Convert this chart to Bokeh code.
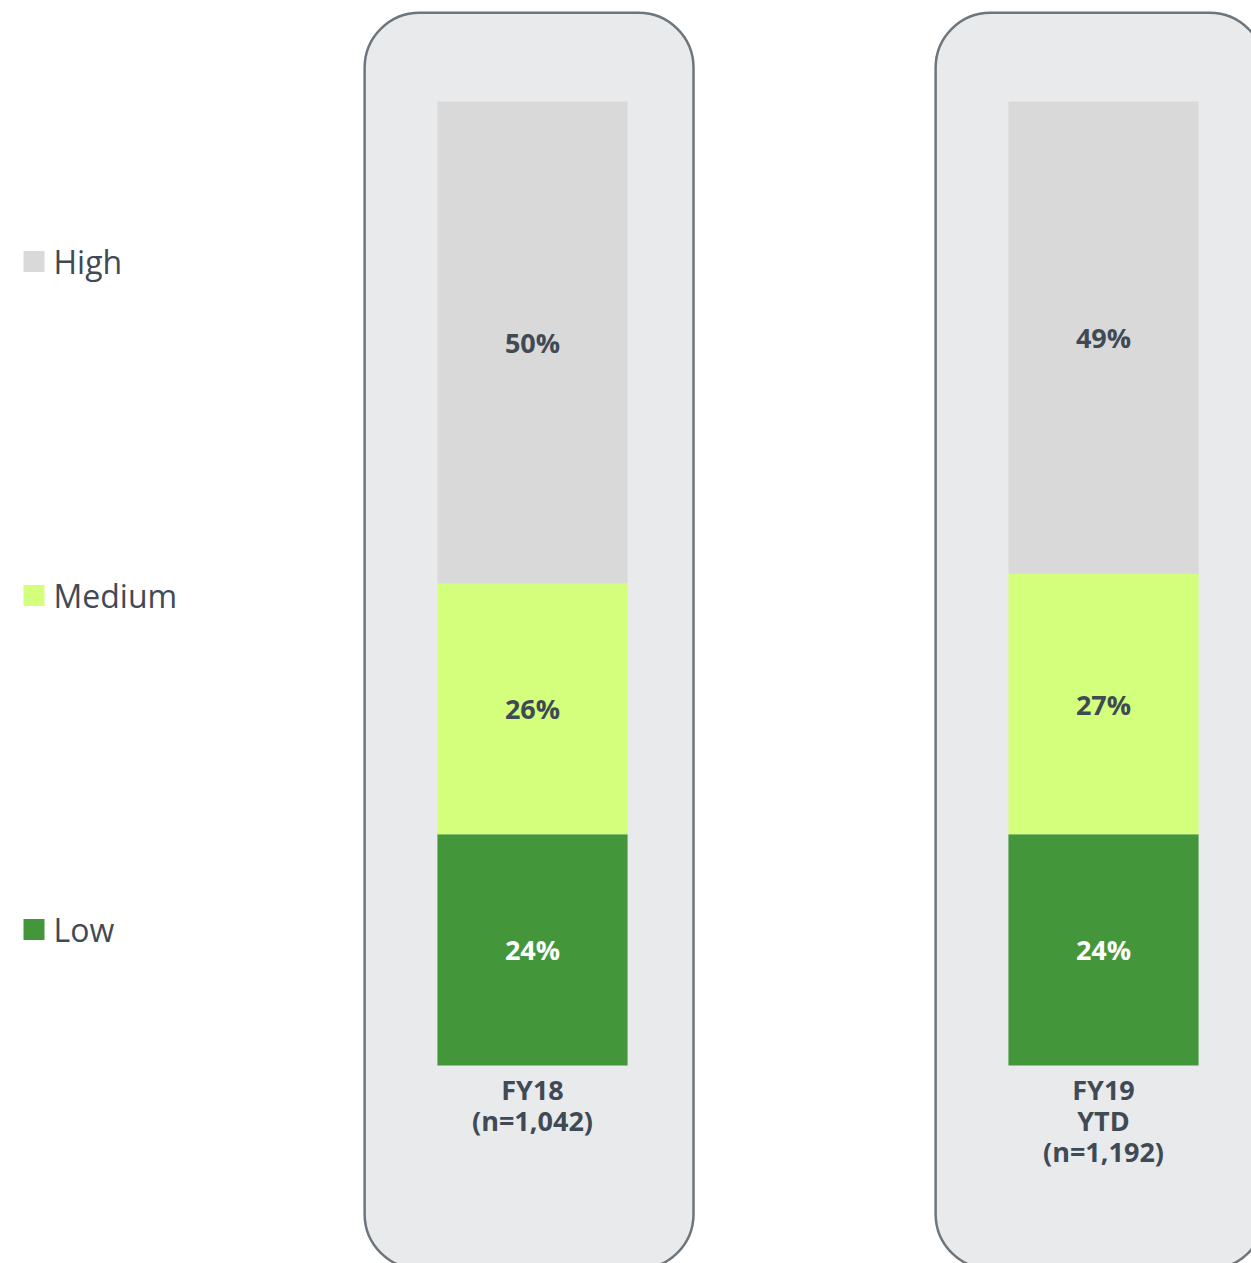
from bokeh.plotting import figure
from bokeh.models import Range1d, BoxAnnotation, ColumnDataSource
from bokeh.core.properties import value
from bokeh.embed import file_html
from bokeh.resources import INLINE

# ---- data ----
categories = ["FY18\n(n=1,042)", "FY19\nYTD\n(n=1,192)"]
series = ["Low", "Medium", "High"]
low = [24, 24]
medium = [26, 27]
high = [50, 49]
colors = {"Low": "#43963A", "Medium": "#D3FF7C", "High": "#D9D9D9"}
label_colors = {"Low": "#FFFFFF", "Medium": "#3F4A55", "High": "#3F4A55"}
legend_order = ["High", "Medium", "Low"]

TEXT = "#3F4A55"
FONT = "Open Sans"

xs = list(range(len(categories)))
src = ColumnDataSource(dict(x=xs, cat=categories, Low=low, Medium=medium, High=high))

p = figure(width=1251, height=1263, output_backend="svg", toolbar_location=None,
           x_range=Range1d(-0.9317, 1.2592), y_range=Range1d(-20.54, 110.48),
           min_border=0)
p.axis.visible = False
p.grid.visible = False
p.outline_line_color = None
p.background_fill_color = "white"

# rounded panels behind each bar
for x in xs:
    p.add_layout(BoxAnnotation(left=x - 0.294, right=x + 0.282, top=109.2, bottom=-21.1,
                               fill_color="#E9EAEC", fill_alpha=1.0,
                               line_color="#6D767C", line_alpha=1.0, line_width=2.5,
                               border_radius=55, level="underlay"))

p.vbar_stack(series, x="x", width=0.333, source=src,
             color=[colors[s] for s in series], line_color=None)

# segment labels
base = [0] * len(xs)
for s, vals in zip(series, [low, medium, high]):
    ys = [b + v / 2 for b, v in zip(base, vals)]
    p.text(x=xs, y=ys, text=[f"{v}%" for v in vals], text_align="center",
           text_baseline="middle", text_font=value(FONT), text_font_style="bold",
           text_font_size="27px", text_color=label_colors[s])
    base = [b + v for b, v in zip(base, vals)]

# category labels
p.text(x="x", y=0, text="cat", source=src, text_align="center", text_baseline="top",
       y_offset=6, text_font=value(FONT), text_font_style="bold", text_font_size="27px",
       text_color=TEXT, text_line_height=0.83)

# legend (manual)
leg_y = [83.4, 48.76, 14.1]
p.scatter(x=[-0.873] * 3, y=leg_y, marker="square", size=21,
          color=[colors[s] for s in legend_order], line_color=None)
p.text(x=[-0.8389] * 3, y=leg_y, text=legend_order, text_align="left",
       text_baseline="middle", text_font=value(FONT), text_font_size="32px",
       text_color=TEXT)

open("out.html", "w").write(file_html(p, INLINE))
